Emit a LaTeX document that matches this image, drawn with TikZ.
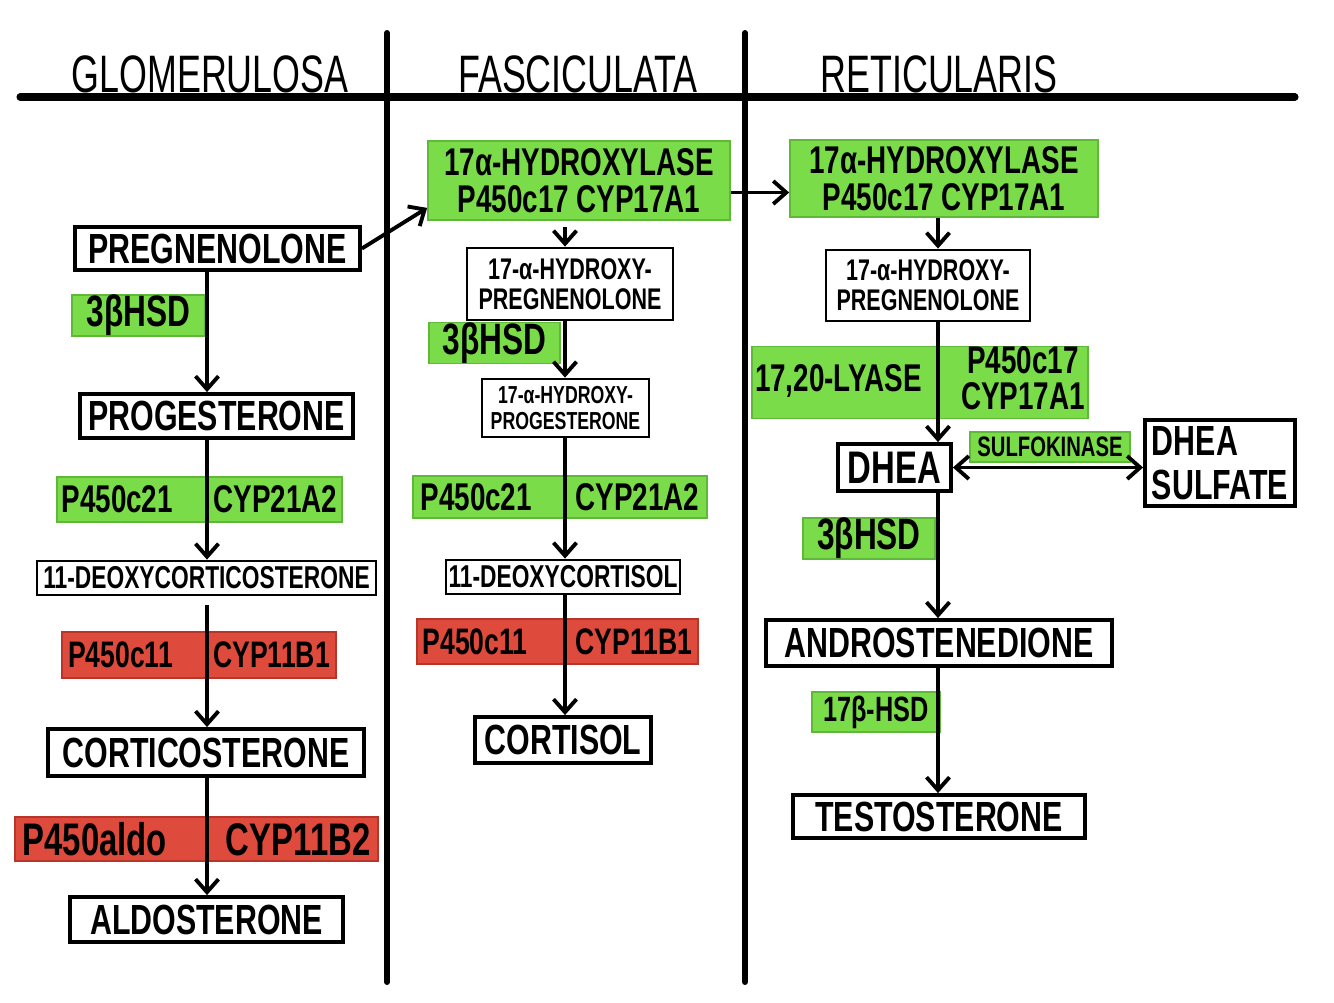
\documentclass[tikz,border=0pt]{standalone}
\usepackage{fontspec}
\setmainfont{Liberation Sans}
\newfontfamily\handfont[FakeStretch=0.72]{Liberation Sans}
\newfontfamily\headfont[FakeStretch=0.68]{Liberation Sans}
\usepackage{tikz}
\usetikzlibrary{calc,arrows.meta}
\usepackage{xcolor}
\definecolor{enzgreen}{HTML}{7BDC4A}
\definecolor{enzgreenedge}{HTML}{5FB83A}
\definecolor{enzred}{HTML}{DE4A3C}
\definecolor{enzrededge}{HTML}{B8352A}
\newcommand{\hand}[2]{\handfont\bfseries\fontsize{#1}{#2}\selectfont}
\tikzset{
	barb/.tip={Straight Barb[length=2.6mm,width=4.6mm]},
	boxsize/.style 2 args={minimum width=#1,minimum height=#2},
	molecule/.style={draw,line width=2.2pt,fill=white,inner sep=0pt,align=center},
	thinmolecule/.style={molecule,line width=1.6pt},
	enzyme/.style={fill=enzgreen,draw=enzgreenedge,line width=1pt,inner sep=0pt,align=center},
	redenzyme/.style={enzyme,fill=enzred,draw=enzrededge},
	flow/.style={line width=2.2pt,-barb},
	twoway/.style={line width=2.2pt,barb-barb},
	zone/.style={line width=3.4pt,line cap=round},
	header/.style={font=\headfont\fontsize{30}{30}\selectfont,inner sep=0pt,anchor=base}
}

\begin{document}
\begin{tikzpicture}[x=0.02cm,y=-0.02cm]
\useasboundingbox (0,0) rectangle (1334,1002);
%zones
\coordinate (L) at (20,97);
\coordinate (R) at (1295,97);
\coordinate (Atop) at (387,33);
\coordinate (Abot) at (387,982);
\coordinate (Btop) at (745,33);
\coordinate (Bbot) at (745,982);
\draw[line width=4pt,line cap=round] (L) to (R);
\draw[zone] (Atop) to (Abot);
\draw[zone] (Btop) to (Bbot);
\node[header] (glom) at (210,92) {GLOMERULOSA};
\node[header] (fasc) at (578,92) {FASCICULATA};
\node[header] (reti) at (939,92) {RETICULARIS};
%
\coordinate (gx) at (207,0);
\coordinate (fx) at (565,0);
\coordinate (rx) at (938,0);
%glomerulosa
\begin{scope}[font=\hand{24}{26}]
\node[molecule,boxsize={5.7cm}{0.86cm}] (preg) at (217.5,248.5) {PREGNENOLONE};
\node[enzyme,boxsize={2.66cm}{0.7cm},font=\hand{25}{26}] (hsdG) at (138.5,315.5) {3βHSD};
\node[molecule,boxsize={5.46cm}{0.88cm}] (prog) at (216.5,416) {PROGESTERONE};
\node[enzyme,boxsize={5.7cm}{0.9cm},font=\hand{22}{24}] (cyp21G) at (199.5,499.5) {\hbox to 5.52cm{P450c21\hfill CYP21A2}};
\node[thinmolecule,boxsize={6.78cm}{0.68cm},font=\hand{18}{20}] (docG) at (206.5,578) {11-DEOXYCORTICOSTERONE};
\node[redenzyme,boxsize={5.48cm}{0.92cm},font=\hand{21}{24}] (cyp11G) at (199,655) {\hbox to 5.24cm{P450c11\hfill CYP11B1}};
\node[molecule,boxsize={6.32cm}{0.94cm}] (cort) at (206,752.5) {CORTICOSTERONE};
\node[redenzyme,boxsize={7.26cm}{0.88cm},font=\hand{26}{28}] (aldo) at (196.5,839) {\hbox to 6.96cm{P450aldo\hfill CYP11B2}};
\node[molecule,boxsize={5.46cm}{0.9cm}] (aldost) at (206.5,919.5) {ALDOSTERONE};
\end{scope}
%fasciculata
\begin{scope}[font=\hand{24}{26}]
\node[enzyme,boxsize={6.04cm}{1.58cm},font=\hand{22}{21}] (hydF) at (579,180.5) {17α-HYDROXYLASE\\P450c17 CYP17A1};
\node[thinmolecule,boxsize={4.12cm}{1.44cm},font=\hand{17}{17}] (ohpregF) at (570,284) {17-α-HYDROXY-\\PREGNENOLONE};
\node[enzyme,boxsize={2.62cm}{0.72cm},font=\hand{25}{26}] (hsdF) at (494.5,343) {3βHSD};
\node[thinmolecule,boxsize={3.34cm}{1.16cm},font=\hand{14}{15}] (ohprogF) at (565.5,408) {17-α-HYDROXY-\\PROGESTERONE};
\node[enzyme,boxsize={5.88cm}{0.84cm},font=\hand{22}{24}] (cyp21F) at (560,497) {\hbox to 5.58cm{P450c21\hfill CYP21A2}};
\node[thinmolecule,boxsize={4.68cm}{0.68cm},font=\hand{18}{20}] (docF) at (563,577) {11-DEOXYCORTISOL};
\node[redenzyme,boxsize={5.62cm}{0.9cm},font=\hand{21}{24}] (cyp11F) at (557.5,641.5) {\hbox to 5.4cm{P450c11\hfill CYP11B1}};
\node[molecule,boxsize={3.52cm}{0.92cm}] (cortisol) at (563,740) {CORTISOL};
\end{scope}
%reticularis
\begin{scope}[font=\hand{24}{26}]
\node[enzyme,boxsize={6.16cm}{1.54cm},font=\hand{22}{21}] (hydR) at (944,178.5) {17α-HYDROXYLASE\\P450c17 CYP17A1};
\node[thinmolecule,boxsize={4.08cm}{1.42cm},font=\hand{17}{17}] (ohpregR) at (928,285.5) {17-α-HYDROXY-\\PREGNENOLONE};
\node[enzyme,boxsize={6.72cm}{1.22cm},font=\hand{22}{17}] (lyase) at (920,382.5) {\hbox to 6.6cm{17,20-LYASE\hfill\begin{tabular}{@{}c@{}}P450c17\\CYP17A1\end{tabular}}};
\node[molecule,boxsize={2.26cm}{0.94cm},font=\hand{26}{28}] (dhea) at (894.5,467.5) {DHEA};
\node[enzyme,boxsize={3.2cm}{0.6cm},font=\hand{16}{18}] (sulfo) at (1050,447) {SULFOKINASE};
\node[molecule,boxsize={3.0cm}{1.72cm},align=left,font=\hand{24}{25}] (dheas) at (1220,463) {DHEA\\SULFATE};
\node[enzyme,boxsize={2.64cm}{0.7cm},font=\hand{25}{26}] (hsdR) at (869,538.5) {3βHSD};
\node[molecule,boxsize={6.92cm}{0.92cm}] (andro) at (939,643) {ANDROSTENEDIONE};
\node[enzyme,boxsize={2.56cm}{0.8cm},font=\hand{20}{22}] (hsd17) at (876,712) {17β-HSD};
\node[molecule,boxsize={5.84cm}{0.86cm}] (testo) at (939,816.5) {TESTOSTERONE};
\end{scope}
%arrows
\draw[flow] (preg.south -| gx) to (prog.north -| gx);
\draw[flow] (prog.south -| gx) to (docG.north -| gx);
\draw[flow] ($(docG.south -| gx)+(0,9)$) to (cort.north -| gx);
\draw[flow] (cort.south -| gx) to (aldost.north -| gx);
\draw[flow] (preg.east) to ($(hydF.south west)+(0,-13)$);
\draw[flow] ($(hydF.south -| fx)+(0,6)$) to (ohpregF.north -| fx);
\draw[flow] (ohpregF.south -| fx) to (ohprogF.north -| fx);
\draw[flow] (ohprogF.south -| fx) to (docF.north -| fx);
\draw[flow] (docF.south -| fx) to (cortisol.north -| fx);
\draw[flow] ($(hydF.east)+(0,12)$) to ($(hydR.west)+(0,14)$);
\draw[flow] (hydR.south -| rx) to (ohpregR.north -| rx);
\draw[flow] (ohpregR.south -| rx) to (dhea.north -| rx);
\draw[twoway] (dhea.east) to (dheas.west |- dhea.east);
\draw[flow] (dhea.south -| rx) to (andro.north -| rx);
\draw[flow] (andro.south -| rx) to (testo.north -| rx);
\end{tikzpicture}
\end{document}
